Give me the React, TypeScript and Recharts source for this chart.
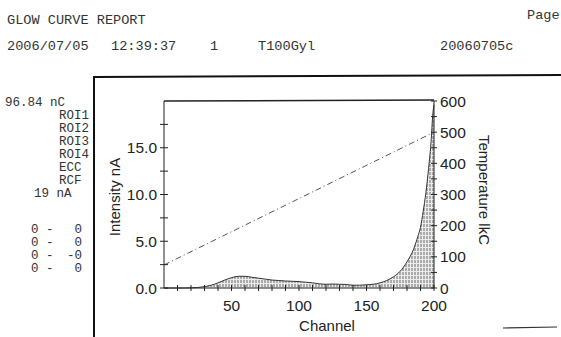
import { Area, ComposedChart, Line, XAxis, YAxis } from 'recharts'

// glow curve (channel -> nA)
const channels = [
  0, 5, 10, 15, 20, 25, 30, 35, 40, 45, 50, 55, 60, 65, 70, 75, 80, 85, 90, 95, 100, 105, 110,
  115, 120, 125, 130, 135, 140, 145, 150, 155, 160, 165, 170, 175, 180, 185, 188, 190, 192, 194,
  196, 198, 199, 200,
]
const intensity = [
  0, 0, 0, 0, 0.02, 0.05, 0.15, 0.3, 0.55, 0.85, 1.1, 1.25, 1.25, 1.15, 1.05, 0.95, 0.85, 0.8,
  0.75, 0.72, 0.68, 0.62, 0.55, 0.45, 0.4, 0.42, 0.4, 0.38, 0.3, 0.3, 0.35, 0.4, 0.55, 0.8, 1.2,
  1.8, 2.8, 4.2, 5.5, 6.5, 8.2, 10.2, 12.8, 16.0, 18.4, 19.6,
]
// heating ramp: only the two end points
const tempChannels = [0, 200]
const tempValues = [74, 500]

const xTicks = [10, 20, 30, 40, 50, 60, 70, 80, 90, 100, 110, 120, 130, 140, 150, 160, 170, 180, 190, 200]
const xLabels = [50, 100, 150, 200]
const leftTicks = [0, 2.5, 5, 7.5, 10, 12.5, 15, 17.5]
const leftLabels = [0, 5, 10, 15]
const rightTicks = [0, 50, 100, 150, 200, 250, 300, 350, 400, 450, 500, 550, 600]
const rightLabels = [0, 100, 200, 300, 400, 500, 600]

const sideLines = ['ROI1', 'ROI2', 'ROI3', 'ROI4', 'ECC', 'RCF']
const roiRows = [
  ['0', '-', '0'],
  ['0', '-', '0'],
  ['0', '-', '-0'],
  ['0', '-', '0'],
]

const INK = '#222'
const MONO = '"Liberation Mono", "DejaVu Sans Mono", monospace'
const SANS = '"Liberation Sans", Arial, sans-serif'
const TICK_FONT = 15.5

const data = channels.map((ch, i) => {
  const ti = tempChannels.indexOf(ch)
  return { ch, nA: intensity[i], temp: ti >= 0 ? tempValues[ti] : null }
})

function LeftTick({ x, y, payload }: any) {
  const v = payload.value as number
  return (
    <g>
      <line x1={x - 4} x2={x + 4} y1={y} y2={y} stroke={INK} />
      {leftLabels.includes(v) && (
        <text x={x - 7} y={y} dy={5.5} textAnchor="end" fontSize={TICK_FONT} fontFamily={SANS} fill={INK}>
          {v.toFixed(1)}
        </text>
      )}
    </g>
  )
}

function RightTick({ x, y, payload }: any) {
  const v = payload.value as number
  return (
    <g>
      <line x1={x - 3} x2={x + 3} y1={y} y2={y} stroke={INK} />
      {rightLabels.includes(v) && (
        <text x={x + 6} y={y} dy={5.5} textAnchor="start" fontSize={TICK_FONT} fontFamily={SANS} fill={INK}>
          {v}
        </text>
      )}
    </g>
  )
}

function BottomTick({ x, y, payload }: any) {
  const v = payload.value as number
  return (
    <g>
      <line x1={x} x2={x} y1={y - 3} y2={y + 3} stroke={INK} />
      {xLabels.includes(v) && (
        <text x={x} y={y + 23} textAnchor="middle" fontSize={TICK_FONT} fontFamily={SANS} fill={INK}>
          {v}
        </text>
      )}
    </g>
  )
}

export default function App() {
  return (
    <div style={{ position: 'relative', width: 561, height: 337, background: '#fff', overflow: 'hidden' }}>
      <style>{'body{margin:0}'}</style>
      <ComposedChart
        width={561}
        height={337}
        data={data}
        margin={{ top: 101, right: 67, bottom: 19, left: 104 }}
        style={{ position: 'absolute', left: 0, top: 0 }}
      >
        <defs>
          <pattern id="hatch" width="3" height="4" patternUnits="userSpaceOnUse">
            <rect width="3" height="4" fill="#ececec" />
            <line x1="1" x2="1" y1="0" y2="3" stroke="#6a6a6a" strokeWidth="1" />
          </pattern>
        </defs>
        <XAxis
          dataKey="ch"
          type="number"
          domain={[0, 200]}
          ticks={xTicks}
          interval={0}
          height={30}
          tickSize={0}
          tickMargin={0}
          tick={<BottomTick />}
          axisLine={{ stroke: INK }}
        />
        <YAxis
          yAxisId="left"
          domain={[0, 20]}
          ticks={leftTicks}
          interval={0}
          width={60}
          tickSize={0}
          tickMargin={0}
          tick={<LeftTick />}
          axisLine={{ stroke: INK }}
        />
        <YAxis
          yAxisId="right"
          orientation="right"
          domain={[0, 600]}
          ticks={rightTicks}
          interval={0}
          width={60}
          tickSize={0}
          tickMargin={0}
          tick={<RightTick />}
          axisLine={{ stroke: INK }}
        />
        <Area
          yAxisId="left"
          dataKey="nA"
          type="monotone"
          stroke="#333"
          strokeWidth={1}
          fill="url(#hatch)"
          fillOpacity={1}
          isAnimationActive={false}
          dot={false}
        />
        <Line
          yAxisId="right"
          dataKey="temp"
          type="linear"
          stroke="#555"
          strokeWidth={1}
          strokeDasharray="6 3 1 3"
          connectNulls
          dot={false}
          isAnimationActive={false}
        />
      </ComposedChart>

      <svg
        width={561}
        height={337}
        style={{ position: 'absolute', left: 0, top: 0, pointerEvents: 'none' }}
        fontFamily={MONO}
        fill="#333"
      >
        {/* report header */}
        <text x={7} y={24} fontSize={13.6}>GLOW CURVE REPORT</text>
        <text x={527} y={19} fontSize={13.6}>Page</text>
        <text x={7} y={50} fontSize={13.6}>2006/07/05</text>
        <text x={111} y={50} fontSize={13.6}>12:39:37</text>
        <text x={210} y={50} fontSize={13.6}>1</text>
        <text x={258} y={50} fontSize={13.6}>T100Gyl</text>
        <text x={440} y={50} fontSize={13.6}>20060705c</text>

        {/* frame */}
        <line x1={94} x2={561} y1={77} y2={75} stroke="#111" strokeWidth={2} />
        <line x1={94} x2={94} y1={76} y2={337} stroke="#111" strokeWidth={2} />
        <line x1={503} x2={557} y1={328} y2={327} stroke="#333" strokeWidth={1.2} />
        <line x1={164} x2={434} y1={101} y2={100} stroke={INK} strokeWidth={1.5} />

        {/* side readings */}
        <text x={5} y={106} fontSize={12.5}>96.84 nC</text>
        {sideLines.map((s, i) => (
          <text key={s} x={59} y={119 + i * 13} fontSize={12.5}>
            {s}
          </text>
        ))}
        <text x={34} y={197} fontSize={12.5}>19 nA</text>
        {roiRows.map((r, i) => (
          <g key={i}>
            <text x={31} y={233 + i * 13} fontSize={12.5}>{r[0]}</text>
            <text x={46} y={233 + i * 13} fontSize={12.5}>{r[1]}</text>
            <text x={82} y={233 + i * 13} fontSize={12.5} textAnchor="end">{r[2]}</text>
          </g>
        ))}

        {/* axis titles */}
        <g fontFamily={SANS} fill={INK} fontSize={15}>
          <text x={327} y={331} textAnchor="middle">Channel</text>
          <text transform="translate(120 197) rotate(-90)" textAnchor="middle">Intensity nA</text>
          <text transform="translate(479 190) rotate(90)" textAnchor="middle">Temperature lkC</text>
        </g>
      </svg>
    </div>
  )
}
